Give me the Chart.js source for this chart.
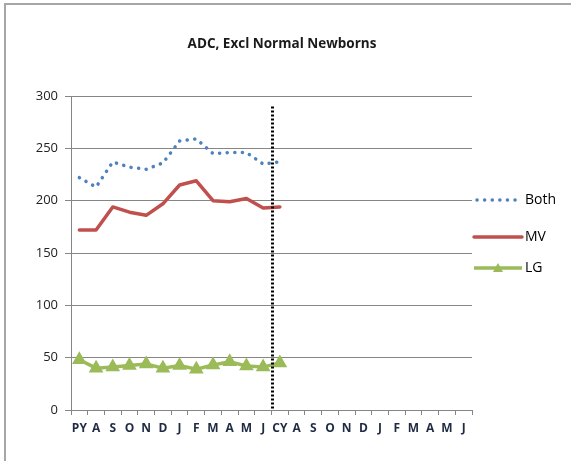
<!DOCTYPE html>
<html lang="en">
<head>
<meta charset="UTF-8">
<title>ADC, Excl Normal Newborns</title>
<style>
  html, body { margin: 0; padding: 0; background: #ffffff; }
  #wrap { width: 571px; height: 461px; }
</style>
</head>
<body>
<div id="wrap"><canvas id="myChart" width="571" height="461"></canvas></div>

<script src="https://cdn.jsdelivr.net/npm/chart.js"></script>
<script>
// months: prior year, then current year
const months = ['PY','A','S','O','N','D','J','F','M','A','M','J',
                'CY','A','S','O','N','D','J','F','M','A','M','J'];
const both = [222, 213, 237, 232, 230, 236, 257, 259, 245, 246, 246, 235, 237];
const mv   = [172, 172, 194, 189, 186, 197, 215, 219, 200, 199, 202, 193, 194];
const lg   = [48, 40, 41, 42.5, 44, 40, 42.5, 39, 43, 46, 42, 41, 45];
const yTicks = [0, 50, 100, 150, 200, 250, 300];
const dividerAfter = 11;   // vertical line between J and CY
const dividerTop = 290;
const chartTitle = 'ADC, Excl Normal Newborns';

const gridGray = '#868686';
const fontFam = '"Open Sans", "DejaVu Sans", sans-serif';

// dotted divider + frame + title + legend
const extras = {
  id: 'extras',
  afterDatasetsDraw(chart) {
    const c = chart.ctx;
    const x = chart.scales.x, y = chart.scales.y;
    const px = (x.getPixelForValue(dividerAfter) + x.getPixelForValue(dividerAfter + 1)) / 2 + 1;
    c.save();
    c.strokeStyle = '#000000';
    c.lineWidth = 3;
    c.setLineDash([2, 2]);
    c.beginPath();
    c.moveTo(px, y.getPixelForValue(dividerTop));
    c.lineTo(px, y.getPixelForValue(0));
    c.stroke();
    c.restore();
  },
  afterDraw(chart) {
    const c = chart.ctx;
    c.save();
    // outer frame (only top/left visible)
    c.strokeStyle = '#a6a6a6';
    c.lineWidth = 2;
    c.strokeRect(5, 4, 600, 500);

    // title
    c.fillStyle = '#1a1a1a';
    c.font = 'bold 13.5px ' + fontFam;
    c.textAlign = 'center';
    c.textBaseline = 'middle';
    c.fillText(chartTitle, 282, 44);

    // legend
    const rows = [200, 237, 268];
    chart.data.datasets.forEach((ds, i) => {
      const ly = rows[i];
      c.strokeStyle = ds.borderColor;
      c.lineWidth = ds.borderWidth;
      c.lineCap = ds.borderCapStyle || 'butt';
      c.setLineDash(ds.borderDash || []);
      c.beginPath();
      c.moveTo(i === 0 ? 477 : 474, ly);
      c.lineTo(522, ly);
      c.stroke();
      c.setLineDash([]);
      if (ds.pointStyle === 'triangle') {
        c.fillStyle = ds.pointBackgroundColor;
        c.beginPath();
        c.moveTo(498, ly - 5);
        c.lineTo(503, ly + 4);
        c.lineTo(493, ly + 4);
        c.closePath();
        c.fill();
      }
      c.fillStyle = '#000000';
      c.font = '14px ' + fontFam;
      c.textBaseline = 'middle';
      c.textAlign = 'left';
      c.fillText(ds.label, 525, ly);
    });
    c.restore();
  }
};

new Chart(document.getElementById('myChart').getContext('2d'), {
  type: 'line',
  data: {
    labels: months,
    datasets: [{
      label: 'Both',
      data: both,
      borderColor: '#4f81bd',
      borderWidth: 3.5,
      borderDash: [0.1, 7.5],
      borderCapStyle: 'round',
      pointRadius: 0,
      tension: 0,
      fill: false
    }, {
      label: 'MV',
      data: mv,
      borderColor: '#c0504d',
      borderWidth: 3.5,
      borderCapStyle: 'round',
      borderJoinStyle: 'round',
      pointRadius: 0,
      tension: 0,
      fill: false
    }, {
      label: 'LG',
      data: lg,
      borderColor: '#9bbb59',
      backgroundColor: '#9bbb59',
      pointBackgroundColor: '#9bbb59',
      pointBorderColor: '#9bbb59',
      borderWidth: 3.5,
      pointStyle: 'triangle',
      pointRadius: 5,
      tension: 0,
      fill: false
    }]
  },
  options: {
    responsive: false,
    animation: false,
    events: [],
    layout: { padding: { left: 0, right: 99, top: 96, bottom: 0 } },
    plugins: {
      legend: { display: false },
      tooltip: { enabled: false },
      title: { display: false }
    },
    scales: {
      x: {
        offset: true,
        grid: { display: true, offset: true, drawOnChartArea: false, drawTicks: true,
                tickLength: 5, color: gridGray },
        border: { display: true, color: gridGray },
        ticks: {
          autoSkip: false, maxRotation: 0, padding: 6,
          color: '#1f2a44',
          font: { family: fontFam, size: 12, weight: 'bold' }
        },
        afterFit(scale) { scale.height = 51; }
      },
      y: {
        min: 0, max: 300,
        afterBuildTicks(scale) { scale.ticks = yTicks.map(v => ({ value: v })); },
        grid: { color: gridGray, tickLength: 6, drawTicks: true },
        border: { display: true, color: gridGray },
        ticks: {
          padding: 7,
          color: '#222222',
          font: { family: fontFam, size: 13 }
        },
        afterFit(scale) { scale.width = 71; }
      }
    }
  },
  plugins: [extras]
});
</script>
</body>
</html>
